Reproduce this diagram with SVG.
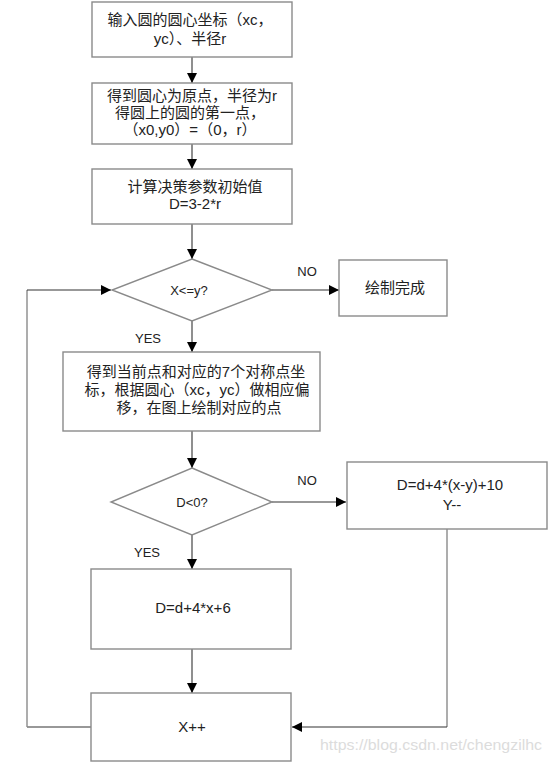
<svg xmlns="http://www.w3.org/2000/svg" width="551" height="765" viewBox="0 0 551 765">
<style>
.box{fill:#fff;stroke:#8a8a8a;stroke-width:1.4}
.t{font-family:"Liberation Sans","Noto Sans CJK SC",sans-serif;font-size:15px;fill:#222;text-anchor:middle}
.s{font-family:"Liberation Sans","Noto Sans CJK SC",sans-serif;font-size:13px;fill:#222;text-anchor:middle}
.c{fill:none;stroke:#333;stroke-width:1.1}
.g{fill:none;stroke:#8a8a8a;stroke-width:1.4}
.wm{font-family:"Liberation Sans",Arial,sans-serif;font-size:15px;fill:#dcdcdc}
</style>
<defs>
<marker id="ah" markerUnits="userSpaceOnUse" markerWidth="10" markerHeight="10" viewBox="0 0 10 10" refX="10" refY="5" orient="auto">
<path d="M0,0 L10,5 L0,10 Z" fill="#000"/>
</marker>
</defs>
<rect width="551" height="765" fill="#fff"/>
<g id="connectors">
<path class="c" d="M192,57 V83" marker-end="url(#ah)"/>
<path class="c" d="M192,144 V169" marker-end="url(#ah)"/>
<path class="c" d="M192,224 V259" marker-end="url(#ah)"/>
<path class="c" d="M272,290 H339" marker-end="url(#ah)"/>
<path class="c" d="M192,321 V352" marker-end="url(#ah)"/>
<path class="c" d="M192,431 V468" marker-end="url(#ah)"/>
<path class="c" d="M272,502 H346" marker-end="url(#ah)"/>
<path class="c" d="M192,535 V569" marker-end="url(#ah)"/>
<path class="c" d="M192,649 V693" marker-end="url(#ah)"/>
<path class="g" d="M447,529 V727"/>
<path class="c" d="M447,727 H292" marker-end="url(#ah)"/>
<path class="c" d="M91,727 H27"/>
<path class="g" d="M27,727 V290"/>
<path class="c" d="M27,290 H111" marker-end="url(#ah)"/>
<text class="s" x="307" y="276">NO</text>
<text class="s" x="148" y="343">YES</text>
<text class="s" x="307" y="485">NO</text>
<text class="s" x="147" y="557">YES</text>
</g>
<g id="n1">
<rect class="box" x="92" y="2" width="200" height="55"/>
<text class="t"><tspan x="190" y="25">输入圆的圆心坐标（xc，</tspan><tspan x="190" y="44">yc）、半径r</tspan></text>
</g>
<g id="n2">
<rect class="box" x="92" y="83" width="200" height="61"/>
<text class="t"><tspan x="192" y="101">得到圆心为原点，半径为r</tspan><tspan x="190" y="118">得圆上的圆的第一点，</tspan><tspan x="190" y="135">（x0,y0）=（0，r）</tspan></text>
</g>
<g id="n3">
<rect class="box" x="92" y="169" width="200" height="55"/>
<text class="t"><tspan x="195" y="192">计算决策参数初始值</tspan><tspan x="195" y="209">D=3-2*r</tspan></text>
</g>
<g id="n4">
<polygon class="box" points="192,259 272,290 192,321 112,290"/>
<text class="s" x="189" y="295">X&lt;=y?</text>
</g>
<g id="n5">
<rect class="box" x="339" y="260" width="108" height="56"/>
<text class="t" x="395" y="293">绘制完成</text>
</g>
<g id="n6">
<rect class="box" x="63" y="352" width="257" height="79"/>
<text class="t"><tspan x="196" y="377">得到当前点和对应的7个对称点坐</tspan><tspan x="197" y="395">标，根据圆心（xc，yc）做相应偏</tspan><tspan x="199" y="413">移，在图上绘制对应的点</tspan></text>
</g>
<g id="n7">
<polygon class="box" points="192,468 272,502 192,535 111,502"/>
<text class="s" x="192" y="507">D&lt;0?</text>
</g>
<g id="n8">
<rect class="box" x="347" y="462" width="200" height="67"/>
<text class="t"><tspan x="450" y="490">D=d+4*(x-y)+10</tspan><tspan x="452" y="510">Y--</tspan></text>
</g>
<g id="n9">
<rect class="box" x="91" y="569" width="200" height="80"/>
<text class="t" x="193" y="613">D=d+4*x+6</text>
</g>
<g id="n10">
<rect class="box" x="91" y="693" width="200" height="68"/>
<text class="t" x="192" y="732">X++</text>
</g>
<text class="wm" x="320" y="750" textLength="222" lengthAdjust="spacingAndGlyphs">https://blog.csdn.net/chengzilhc</text>
</svg>
